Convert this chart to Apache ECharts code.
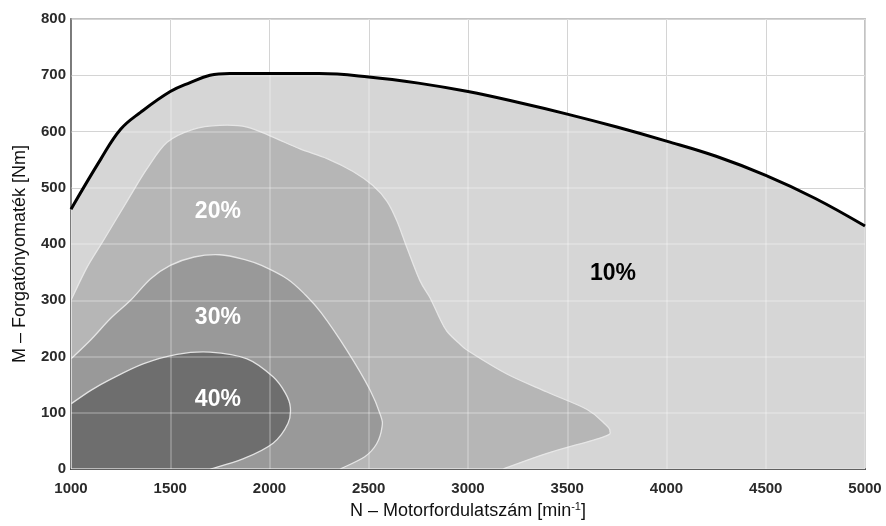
<!DOCTYPE html>
<html><head><meta charset="utf-8">
<script src="https://cdn.jsdelivr.net/npm/echarts@6/dist/echarts.min.js"></script>
<style>html,body{margin:0;padding:0;background:#fff}#c{width:886px;height:526px}</style>
</head><body><div id="c"></div>
<script>
// Full-load torque curve (10% zone upper limit)
const curveRpm    = [1000,1150,1250,1350,1500,1600,1700,1800,2000,2250,2500,2750,3000,3250,3500,3750,4000,4250,4500,4750,5000];
const curveTorque = [462, 551, 604, 634, 671, 687, 700, 703, 703, 703, 697, 686, 671, 652, 631, 608, 583, 556, 522, 481, 432];

// Zone outlines [rpm, Nm]: boundary curve from left axis to bottom axis, last point = corner
const zone20 = [[1000,300],[1080,358],[1161,405],[1282,476],[1383,534],[1484,581],[1615,604],[1750,611],[1887,608],[2018,590],[2154,569],[2290,552],[2421,529],[2521,504],[2592,476],[2642,441],[2693,393],[2758,335],[2808,305],[2855,270],[2894,245],[2960,222],[3010,208],[3196,169],[3398,137],[3600,106],[3690,80],[3715,68],[3680,57],[3398,28],[3176,0],[1000,0]];
const zone30 = [[1000,196],[1100,230],[1200,268],[1300,300],[1400,338],[1500,362],[1620,377],[1750,381],[1880,372],[1960,362],[2090,338],[2180,310],[2260,278],[2390,211],[2506,141],[2560,95],[2567,75],[2540,45],[2480,22],[2355,0],[1000,0]];
const zone40 = [[1000,116],[1100,140],[1196,159],[1363,187],[1534,204],[1700,208],[1887,196],[2018,164],[2080,135],[2105,110],[2093,81],[2018,46],[1866,18],[1700,0],[1000,0]];

const zoneLabels      = ['10%','20%','30%','40%'];
const zoneLabelRpm    = [3730,1740,1740,1740];
const zoneLabelTorque = [347, 458, 270, 123];
const zoneLabelColors = ['#000','#fff','#fff','#fff'];

const chart = echarts.init(document.getElementById('c'));

function smoothPath(pts) {
  // Catmull-Rom through boundary points, straight edges to the corner
  const n = pts.length - 1; // last is corner
  const c = pts.slice(0, n);
  const f = v => v.toFixed(2);
  let d = 'M' + f(c[0][0]) + ' ' + f(c[0][1]);
  for (let i = 0; i < n - 1; i++) {
    const p0 = c[Math.max(i - 1, 0)], p1 = c[i], p2 = c[i + 1], p3 = c[Math.min(i + 2, n - 1)];
    const c1x = p1[0] + (p2[0] - p0[0]) / 6, c1y = p1[1] + (p2[1] - p0[1]) / 6;
    const c2x = p2[0] - (p3[0] - p1[0]) / 6, c2y = p2[1] - (p3[1] - p1[1]) / 6;
    d += 'C' + f(c1x) + ' ' + f(c1y) + ' ' + f(c2x) + ' ' + f(c2y) + ' ' + f(p2[0]) + ' ' + f(p2[1]);
  }
  d += 'L' + f(pts[n][0]) + ' ' + f(pts[n][1]) + 'Z';
  return d;
}

function polySeries(points, fill, z) {
  return {
    type: 'custom', coordinateSystem: 'cartesian2d', xAxisIndex: 0, yAxisIndex: 0,
    data: [points[0]], clip: true, silent: true, z: z,
    renderItem: function (params, api) {
      const pts = points.map(p => api.coord(p));
      return {
        type: 'path',
        shape: { pathData: smoothPath(pts), layout: 'center' },
        style: { fill: fill, stroke: 'rgba(232,232,232,0.95)', lineWidth: 1.3 }
      };
    }
  };
}

const tickFont = { fontFamily: 'Liberation Sans, Arial, sans-serif', fontWeight: 'bold', fontSize: 15, color: '#2a2a2a', formatter: v => String(v) };

chart.setOption({
  animation: false,
  grid: { left: 71, right: 21, top: 19, bottom: 53, show: true, borderColor: '#999', borderWidth: 1.5, backgroundColor: '#fff' },
  xAxis: [{
    type: 'value', min: 1000, max: 5000, interval: 500,
    axisLine: { show: true, onZero: false, lineStyle: { color: '#333', width: 2 } },
    axisTick: { show: false },
    axisLabel: Object.assign({ margin: 12 }, tickFont),
    splitLine: { show: true, lineStyle: { color: '#c8c8c8', width: 1 } },
    name: 'N – Motorfordulatszám [min{sup|-1}]',
    nameLocation: 'middle', nameGap: 30,
    nameTextStyle: { fontFamily: 'Liberation Sans, Arial, sans-serif', fontSize: 18, color: '#111', lineHeight: 20,
      rich: { sup: { fontFamily: 'Liberation Sans, Arial, sans-serif', fontSize: 11, color: '#111', verticalAlign: 'top', lineHeight: 20, padding: [0,0,8,0] } } }
  }, {
    type: 'value', min: 1000, max: 5000, interval: 500, position: 'top', z: 5,
    axisLine: { show: false }, axisTick: { show: false }, axisLabel: { show: false },
    splitLine: { show: true, lineStyle: { color: 'rgba(255,255,255,0.3)', width: 1.5 } }
  }],
  yAxis: [{
    type: 'value', min: 0, max: 800, interval: 100,
    axisLine: { show: true, onZero: false, lineStyle: { color: '#333', width: 1.5 } },
    axisTick: { show: false },
    axisLabel: Object.assign({ margin: 5 }, tickFont),
    splitLine: { show: true, lineStyle: { color: '#c8c8c8', width: 1 } },
    name: 'M – Forgatónyomaték [Nm]',
    nameLocation: 'middle', nameGap: 42,
    nameTextStyle: { fontFamily: 'Liberation Sans, Arial, sans-serif', fontSize: 18, color: '#111', padding: [0, 20, 0, 0] }
  }, {
    type: 'value', min: 0, max: 800, interval: 100, position: 'right', z: 5,
    axisLine: { show: false }, axisTick: { show: false }, axisLabel: { show: false },
    splitLine: { show: true, lineStyle: { color: 'rgba(255,255,255,0.3)', width: 1.5 } }
  }],
  series: [
    {
      type: 'line', z: 2, silent: true, smooth: 0.4, showSymbol: false,
      data: curveRpm.map((r, i) => [r, curveTorque[i]]),
      lineStyle: { width: 0 }, areaStyle: { color: '#d6d6d6', opacity: 1, origin: 'start' }
    },
    polySeries(zone20, '#b6b6b6', 3),
    polySeries(zone30, '#999999', 4),
    polySeries(zone40, '#6e6e6e', 4.5),
    {
      type: 'line', z: 9, silent: true, smooth: 0.4, showSymbol: false,
      data: curveRpm.map((r, i) => [r, curveTorque[i]]),
      lineStyle: { width: 3, color: '#000' }
    },
    {
      type: 'scatter', z: 10, silent: true, symbolSize: 0, itemStyle: { opacity: 1 },
      data: zoneLabels.map((t, i) => ({ value: [zoneLabelRpm[i], zoneLabelTorque[i]], name: t,
        label: { color: zoneLabelColors[i] } })),
      label: { show: true, position: 'inside', formatter: '{b}', fontFamily: 'Liberation Sans, Arial, sans-serif', fontWeight: 'bold', fontSize: 23, opacity: 1 }
    }
  ]
});
</script>
</body></html>
